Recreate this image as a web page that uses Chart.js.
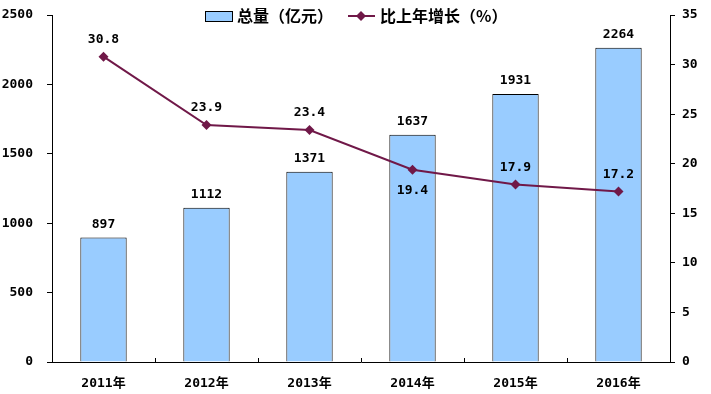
<!DOCTYPE html>
<html>
<head>
<meta charset="utf-8">
<script src="https://cdn.jsdelivr.net/npm/chart.js@4"></script>
<style>
  html, body { margin: 0; padding: 0; background: #fff; }
  #wrap { width: 711px; height: 394px; }
</style>
</head>
<body>
<div id="wrap"><canvas id="chart" width="711" height="394"></canvas></div>
<script>
// chart data
var years = ["2011年", "2012年", "2013年", "2014年", "2015年", "2016年"];
var totalValues = [897, 1112, 1371, 1637, 1931, 2264];   // 总量（亿元）
var growthValues = [30.8, 23.9, 23.4, 19.4, 17.9, 17.2]; // 比上年增长（%）
var totalLabel = "总量（亿元）";
var growthLabel = "比上年增长（%）";
var leftTicks = [0, 500, 1000, 1500, 2000, 2500];
var rightTicks = [0, 5, 10, 15, 20, 25, 30, 35];

var barFill = "#99CCFF";
var lineColor = "#701848";
var numFont = "bold 13px 'DejaVu Sans Mono', monospace";
var cjkFont = "bold 16px 'Noto Sans CJK SC', sans-serif";

// labels on bars and points, legend at top, small inward ticks on x axis
var labelPlugin = {
    id: "labels",
    afterDraw: function (chart) {
        var ctx = chart.ctx;
        ctx.save();
        ctx.fillStyle = "#000";
        ctx.font = numFont;
        ctx.textAlign = "center";
        ctx.textBaseline = "middle";

        chart.getDatasetMeta(0).data.forEach(function (bar, i) {
            ctx.fillText(String(totalValues[i]), bar.x, bar.y - 13);
        });
        chart.getDatasetMeta(1).data.forEach(function (pt, i) {
            var below = i === 3;
            ctx.fillText(growthValues[i].toFixed(1), pt.x, below ? pt.y + 21 : pt.y - 17);
        });

        // x axis tick marks between categories, pointing up
        var area = chart.chartArea;
        ctx.strokeStyle = "#000";
        ctx.lineWidth = 1;
        var step = (area.right - area.left) / years.length;
        for (var k = 1; k < years.length; k++) {
            var tx = Math.round(area.left + step * k) + 0.5;
            ctx.beginPath();
            ctx.moveTo(tx, area.bottom);
            ctx.lineTo(tx, area.bottom - 4);
            ctx.stroke();
        }

        // legend
        var ly = 16;
        ctx.fillStyle = barFill;
        ctx.fillRect(205, ly - 5, 27, 10);
        ctx.strokeStyle = "#000";
        ctx.strokeRect(205.5, ly - 4.5, 27, 10);
        ctx.fillStyle = "#000";
        ctx.font = cjkFont;
        ctx.textAlign = "left";
        ctx.fillText(totalLabel, 237, ly);

        ctx.strokeStyle = lineColor;
        ctx.lineWidth = 2;
        ctx.beginPath();
        ctx.moveTo(348, ly);
        ctx.lineTo(375, ly);
        ctx.stroke();
        ctx.fillStyle = lineColor;
        ctx.beginPath();
        ctx.moveTo(361, ly - 5);
        ctx.lineTo(366, ly);
        ctx.lineTo(361, ly + 5);
        ctx.lineTo(356, ly);
        ctx.closePath();
        ctx.fill();
        ctx.fillStyle = "#000";
        ctx.fillText(growthLabel, 380, ly);
        ctx.restore();
    }
};

var plainTick = function (v) { return String(v); };
var noPad = function (s, w) { s.width = w; s.paddingTop = 0; s.paddingBottom = 0; };

var chart = new Chart(document.getElementById("chart"), {
    type: "bar",
    data: {
        labels: years,
        datasets: [
            {
                label: totalLabel,
                data: totalValues,
                backgroundColor: barFill,
                borderColor: "#000",
                borderWidth: 1,
                categoryPercentage: 0.45,
                barPercentage: 1,
                yAxisID: "y",
                order: 2
            },
            {
                type: "line",
                label: growthLabel,
                data: growthValues,
                borderColor: lineColor,
                backgroundColor: lineColor,
                borderWidth: 2,
                pointStyle: "rectRot",
                pointRadius: 5,
                pointBorderWidth: 0,
                tension: 0,
                yAxisID: "y1",
                order: 1
            }
        ]
    },
    options: {
        responsive: false,
        animation: false,
        layout: { padding: { top: 15, left: 0, right: 0, bottom: 0 } },
        plugins: { legend: { display: false }, tooltip: { enabled: false } },
        scales: {
            x: {
                grid: { display: false },
                border: { color: "#000", width: 1 },
                ticks: { color: "#000", font: { family: "'DejaVu Sans Mono', 'Noto Sans CJK SC'", size: 13, weight: "bold" }, padding: 6 },
                afterFit: function (s) { s.height = 32; s.paddingLeft = 0; s.paddingRight = 0; }
            },
            y: {
                position: "left",
                min: 0, max: 2500,
                afterBuildTicks: function (s) { s.ticks = leftTicks.map(function (v) { return { value: v }; }); },
                grid: { drawOnChartArea: false, drawTicks: true, tickLength: 5, color: "#000" },
                border: { color: "#000", width: 1 },
                ticks: { color: "#000", callback: plainTick, font: { family: "'DejaVu Sans Mono'", size: 13, weight: "bold" }, padding: 14 },
                afterFit: function (s) { noPad(s, 52); }
            },
            y1: {
                position: "right",
                min: 0, max: 35,
                afterBuildTicks: function (s) { s.ticks = rightTicks.map(function (v) { return { value: v }; }); },
                grid: { drawOnChartArea: false, drawTicks: true, tickLength: 5, color: "#000" },
                border: { color: "#000", width: 1 },
                ticks: { color: "#000", callback: plainTick, font: { family: "'DejaVu Sans Mono'", size: 13, weight: "bold" }, padding: 7 },
                afterFit: function (s) { noPad(s, 41); }
            }
        }
    },
    plugins: [labelPlugin]
});
</script>
</body>
</html>
